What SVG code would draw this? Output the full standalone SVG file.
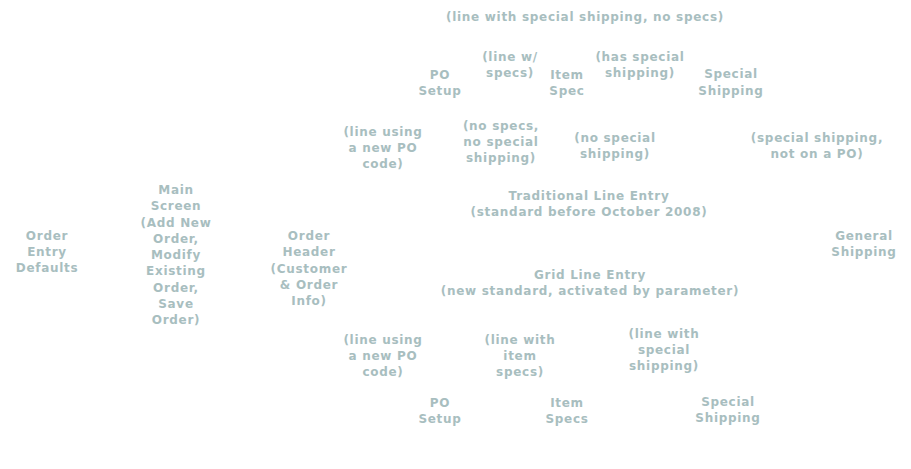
<svg xmlns="http://www.w3.org/2000/svg" width="911" height="469" viewBox="0 0 911 469">
<style>
text{font-family:"DejaVu Sans","Verdana",sans-serif;font-size:12px;fill:#a8bebf;text-anchor:middle;letter-spacing:0.7px;font-weight:bold}
</style>
<rect width="911" height="469" fill="#ffffff"/>
<g id="connectors"></g>
<g id="defaults"><text x="47" y="240"><tspan x="47">Order</tspan><tspan x="47" dy="16">Entry</tspan><tspan x="47" dy="15.5">Defaults</tspan></text></g>
<g id="main"><text x="176" y="194"><tspan x="176">Main</tspan><tspan x="176" dy="16.25">Screen</tspan><tspan x="176" dy="16.25">(Add New</tspan><tspan x="176" dy="16.25">Order,</tspan><tspan x="176" dy="16.25">Modify</tspan><tspan x="176" dy="16.25">Existing</tspan><tspan x="176" dy="16.25">Order,</tspan><tspan x="176" dy="16.25">Save</tspan><tspan x="176" dy="16.25">Order)</tspan></text></g>
<g id="header"><text x="309" y="240"><tspan x="309">Order</tspan><tspan x="309" dy="16.25">Header</tspan><tspan x="309" dy="16.25">(Customer</tspan><tspan x="309" dy="16.25">&amp; Order</tspan><tspan x="309" dy="16.25">Info)</tspan></text></g>
<g id="lbl-special-nospecs"><text x="585" y="21">(line with special shipping, no specs)</text></g>
<g id="lbl-linew"><text x="510" y="61"><tspan x="510">(line w/</tspan><tspan x="510" dy="15.5">specs)</tspan></text></g>
<g id="po-top"><text x="440" y="79"><tspan x="440">PO</tspan><tspan x="440" dy="16">Setup</tspan></text></g>
<g id="itemspec-top"><text x="567" y="79"><tspan x="567">Item</tspan><tspan x="567" dy="16">Spec</tspan></text></g>
<g id="lbl-hasspecial"><text x="640" y="61"><tspan x="640">(has special</tspan><tspan x="640" dy="15.5">shipping)</tspan></text></g>
<g id="special-top"><text x="731" y="78"><tspan x="731">Special</tspan><tspan x="731" dy="16.5">Shipping</tspan></text></g>
<g id="lbl-newpo-top"><text x="383" y="136"><tspan x="383">(line using</tspan><tspan x="383" dy="16">a new PO</tspan><tspan x="383" dy="16">code)</tspan></text></g>
<g id="lbl-nospecs"><text x="501" y="130"><tspan x="501">(no specs,</tspan><tspan x="501" dy="16">no special</tspan><tspan x="501" dy="16">shipping)</tspan></text></g>
<g id="lbl-nospecial"><text x="615" y="142"><tspan x="615">(no special</tspan><tspan x="615" dy="16">shipping)</tspan></text></g>
<g id="lbl-notpo"><text x="817" y="142"><tspan x="817">(special shipping,</tspan><tspan x="817" dy="16">not on a PO)</tspan></text></g>
<g id="traditional"><text x="589" y="200"><tspan x="589">Traditional Line Entry</tspan><tspan x="589" dy="15.5">(standard before October 2008)</tspan></text></g>
<g id="general"><text x="864" y="240"><tspan x="864">General</tspan><tspan x="864" dy="15.5">Shipping</tspan></text></g>
<g id="grid"><text x="590" y="279"><tspan x="590">Grid Line Entry</tspan><tspan x="590" dy="16">(new standard, activated by parameter)</tspan></text></g>
<g id="lbl-newpo-bot"><text x="383" y="344"><tspan x="383">(line using</tspan><tspan x="383" dy="16">a new PO</tspan><tspan x="383" dy="16">code)</tspan></text></g>
<g id="lbl-itemspecs"><text x="520" y="344"><tspan x="520">(line with</tspan><tspan x="520" dy="16">item</tspan><tspan x="520" dy="16">specs)</tspan></text></g>
<g id="lbl-special-bot"><text x="664" y="338"><tspan x="664">(line with</tspan><tspan x="664" dy="16">special</tspan><tspan x="664" dy="15.5">shipping)</tspan></text></g>
<g id="po-bot"><text x="440" y="407"><tspan x="440">PO</tspan><tspan x="440" dy="15.5">Setup</tspan></text></g>
<g id="itemspecs-bot"><text x="567" y="407"><tspan x="567">Item</tspan><tspan x="567" dy="15.5">Specs</tspan></text></g>
<g id="special-bot"><text x="728" y="406"><tspan x="728">Special</tspan><tspan x="728" dy="16">Shipping</tspan></text></g>
</svg>
